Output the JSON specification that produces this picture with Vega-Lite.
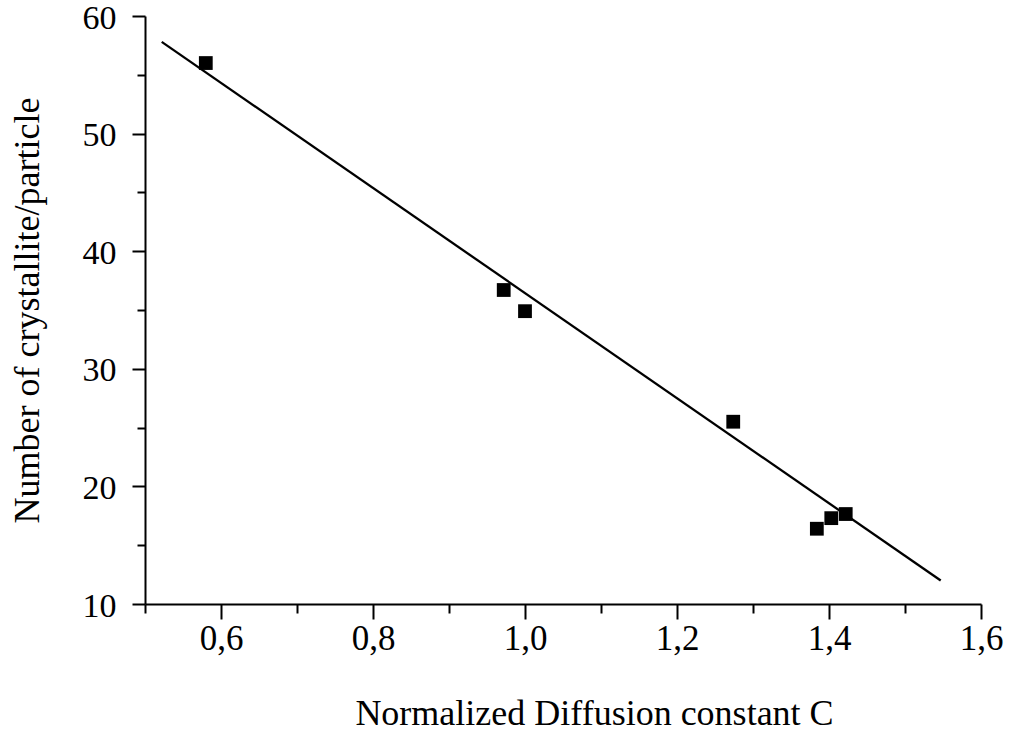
{
  "$schema": "https://vega.github.io/schema/vega-lite/v6.json",
  "width": 836,
  "height": 588,
  "autosize": {"type": "none"},
  "padding": {"left": 145, "top": 16, "right": 33, "bottom": 127},
  "background": "white",
  "config": {
    "view": {"stroke": null},
    "axis": {
      "grid": false,
      "domainColor": "black",
      "domainWidth": 2,
      "tickColor": "black",
      "tickWidth": 2,
      "labelFont": "Liberation Serif",
      "labelFontSize": 35,
      "labelColor": "black",
      "titleFont": "Liberation Serif",
      "titleFontSize": 36,
      "titleFontWeight": "normal",
      "titleColor": "black"
    }
  },
  "datasets": {
    "pts": [
      {"C": 0.58, "N": 56.0},
      {"C": 0.972, "N": 36.7},
      {"C": 1.0, "N": 34.9},
      {"C": 1.274, "N": 25.5},
      {"C": 1.384, "N": 16.4},
      {"C": 1.403, "N": 17.3},
      {"C": 1.422, "N": 17.65}
    ],
    "fit": [
      {"C": 0.522, "N": 57.8},
      {"C": 1.547, "N": 12.0}
    ]
  },
  "layer": [
    {
      "data": {"name": "fit"},
      "mark": {"type": "line", "color": "black", "strokeWidth": 2.3},
      "encoding": {
        "x": {
          "field": "C", "type": "quantitative",
          "scale": {"domain": [0.5, 1.6], "nice": false, "zero": false},
          "axis": {
            "title": "Normalized Diffusion constant C",
            "values": [0.5, 0.6, 0.7, 0.8, 0.9, 1.0, 1.1, 1.2, 1.3, 1.4, 1.5, 1.6],
            "labelExpr": "(round(datum.value*10) % 2 == 0 && datum.value > 0.55) ? replace(format(datum.value, '.1f'), '.', ',') : ''",
            "tickSize": {"condition": {"test": "round(datum.value*10) % 2 == 0", "value": 15}, "value": 9},
            "labelPadding": 2,
            "labelFlush": false,
            "labelOverlap": false,
            "titlePadding": 40,
            "titleX": 449
          }
        },
        "y": {
          "field": "N", "type": "quantitative",
          "scale": {"domain": [10, 60], "nice": false, "zero": false},
          "axis": {
            "title": "Number of crystallite/particle",
            "values": [10, 15, 20, 25, 30, 35, 40, 45, 50, 55, 60],
            "labelExpr": "datum.value % 10 == 0 ? format(datum.value, 'd') : ''",
            "tickSize": {"condition": {"test": "datum.value % 10 == 0", "value": 13}, "value": 8},
            "labelFontSize": 34,
            "labelOffset": 2,
            "labelPadding": 16,
            "labelFlush": false,
            "labelOverlap": false,
            "titlePadding": 36
          }
        }
      }
    },
    {
      "data": {"name": "pts"},
      "mark": {"type": "point", "shape": "square", "filled": true, "color": "black", "size": 190, "opacity": 1},
      "encoding": {
        "x": {"field": "C", "type": "quantitative"},
        "y": {"field": "N", "type": "quantitative"}
      }
    }
  ]
}
